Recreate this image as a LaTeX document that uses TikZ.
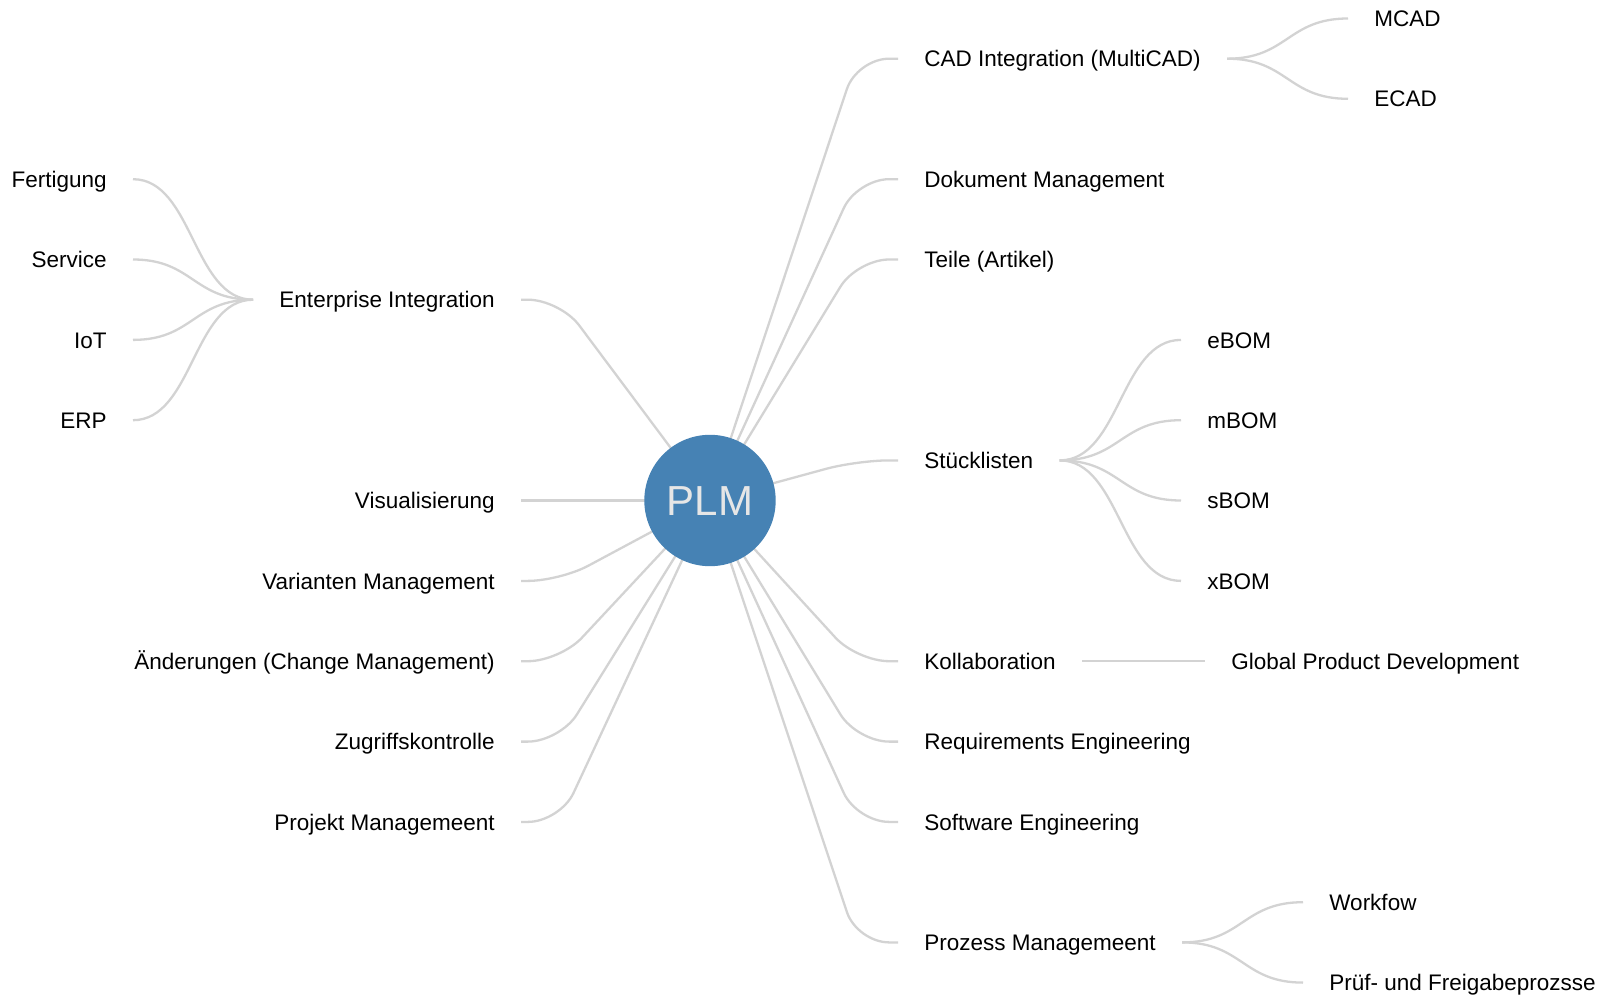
\documentclass[tikz,border=0pt]{standalone}
\usepackage{fontspec}
\setmainfont{Liberation Sans}
\usetikzlibrary{calc,backgrounds}
\definecolor{plmblue}{HTML}{4682B4}
\definecolor{linkgray}{HTML}{D3D3D3}
\definecolor{plmtext}{HTML}{E6E6E6}

\begin{document}
\begin{tikzpicture}[x=0.5pt,y=-0.5pt,
  every node/.style={font=\fontsize{11.25}{13}\selectfont,inner xsep=13pt,inner ysep=0pt,text height=0.82em,text depth=0pt},
  rtopic/.style={anchor=west},
  ltopic/.style={anchor=east},
  root/.style={circle,fill=plmblue,text=plmtext,minimum size=65.7pt,inner sep=0pt,text height=14.8pt,font=\fontsize{21}{24}\selectfont},
  link/.style={draw=linkgray,line width=1.15pt,
    to path={let \p1=(\tikztostart), \p2=(\tikztotarget) in
      .. controls ({(\x1+\x2)/2},\y1) and ({(\x1+\x2)/2},\y2) .. (\tikztotarget)}},
  spoke/.style={draw=linkgray,line width=1.15pt,rounded corners=16pt},
  rspoke/.style={spoke,to path={let \p1=(\tikztotarget) in -- ({\x1-20.5pt},\y1) -- (\tikztotarget)}},
  lspoke/.style={spoke,to path={let \p1=(\tikztotarget) in -- ({\x1+19.5pt},\y1) -- (\tikztotarget)}}]
\useasboundingbox (0,0) rectangle (1608,995);

\node[root] (plm) at (710,500.5) {PLM};

% right hand side
\node[rtopic] (cad) at (898,58.7) {CAD Integration (MultiCAD)};
\node[rtopic] (dok) at (898,179.2) {Dokument Management};
\node[rtopic] (teile) at (898,259.5) {Teile (Artikel)};
\node[rtopic] (stueck) at (898,460.4) {Stücklisten};
\node[rtopic] (kollab) at (898,661.2) {Kollaboration};
\node[rtopic] (req) at (898,741.6) {Requirements Engineering};
\node[rtopic] (soft) at (898,821.9) {Software Engineering};
\node[rtopic] (proz) at (898,942.4) {Prozess Managemeent};

\node[rtopic] (mcad) at (1348,18.5) {MCAD};
\node[rtopic] (ecad) at (1348,98.8) {ECAD};
\node[rtopic] (ebom) at (1181,339.9) {eBOM};
\node[rtopic] (mbom) at (1181,420.2) {mBOM};
\node[rtopic] (sbom) at (1181,500.5) {sBOM};
\node[rtopic] (xbom) at (1181,580.9) {xBOM};
\node[rtopic] (gpd) at (1205,661.2) {Global Product Development};
\node[rtopic] (wf) at (1303,902.2) {Workfow};
\node[rtopic] (pruef) at (1303,982.6) {Prüf- und Freigabeprozsse};

% left hand side
\node[ltopic] (ent) at (521,299.7) {Enterprise Integration};
\node[ltopic] (vis) at (521,500.5) {Visualisierung};
\node[ltopic] (var) at (521,580.9) {Varianten Management};
\node[ltopic] (aend) at (521,661.2) {Änderungen (Change Management)};
\node[ltopic] (zug) at (521,741.6) {Zugriffskontrolle};
\node[ltopic] (proj) at (521,821.9) {Projekt Managemeent};

\node[ltopic] (fert) at (133,179.2) {Fertigung};
\node[ltopic] (serv) at (133,259.5) {Service};
\node[ltopic] (iot) at (133,339.9) {IoT};
\node[ltopic] (erp) at (133,420.2) {ERP};

\begin{scope}[on background layer]
\foreach \t in {cad,dok,teile,stueck,kollab,req,soft,proz}
  \path (plm.center) edge[rspoke] (\t.west);
\foreach \t in {ent,vis,var,aend,zug,proj}
  \path (plm.center) edge[lspoke] (\t.east);
\foreach \t in {fert,serv,iot,erp}
  \path (ent.west) edge[link] (\t.east);
\path (cad.east) edge[link] (mcad.west);
\path (cad.east) edge[link] (ecad.west);
\foreach \t in {ebom,mbom,sbom,xbom}
  \path (stueck.east) edge[link] (\t.west);
\path (kollab.east) edge[link] (gpd.west);
\path (proz.east) edge[link] (wf.west);
\path (proz.east) edge[link] (pruef.west);
\end{scope}
\end{tikzpicture}
\end{document}
